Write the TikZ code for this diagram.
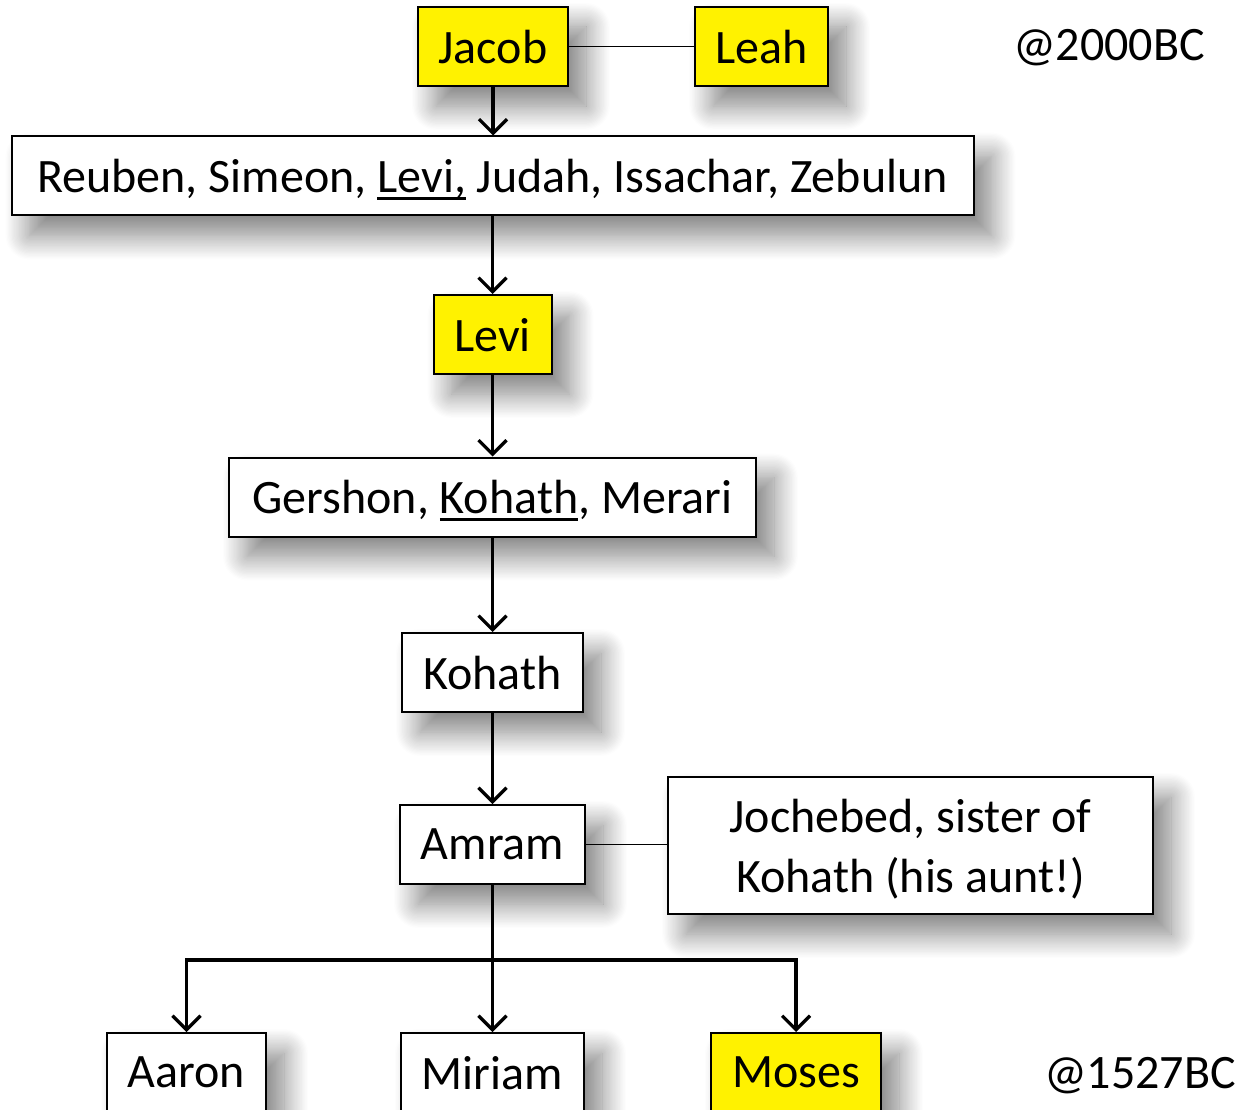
\documentclass[tikz,border=0pt]{standalone}
\usepackage{fontspec}
\setmainfont{Carlito}
\usetikzlibrary{arrows.meta,shadows.blur}
\newcommand\uln[1]{\setbox0\hbox{#1}\rlap{\rule[-7pt]{\wd0}{3pt}}\box0\relax}
\begin{document}
\begin{tikzpicture}[x=1pt,y=-1pt,
  box/.style={draw=black,line width=2pt,fill=white,minimum height=79pt,inner sep=0pt,
    font=\fontsize{48}{60}\selectfont,text depth=0pt,
    blur shadow={shadow xshift=18pt,shadow yshift=-20pt,shadow blur radius=24pt,shadow blur steps=20,shadow opacity=50}},
  ybox/.style={box,fill=yellow},
  plain/.style={font=\fontsize{48}{60}\selectfont,inner sep=0pt},
  arr/.style={line width=3.2pt,-{Straight Barb[length=14pt,width=28pt,line width=3.2pt]}},
  thin/.style={line width=1.5pt},
  thick/.style={line width=3.2pt}]
\useasboundingbox (0,0) rectangle (1243,1110);
\clip (0,0) rectangle (1243,1110);
\node[ybox,minimum width=150pt] (jacob) at (493,46.5) {Jacob};
\node[ybox,minimum width=133pt] (leah) at (761.5,46.5) {Leah};
\node[plain] (d2000) at (1109,48) {@2000BC};
\node[box,minimum width=962pt] (sons) at (492.5,176) {Reuben, Simeon, \uln{Levi,} Judah, Issachar, Zebulun};
\node[ybox,minimum width=118pt] (levi) at (492.5,334.5) {Levi};
\node[box,minimum width=527pt] (gersh) at (492.5,497) {Gershon, \uln{Kohath}, Merari};
\node[box,minimum width=181pt] (kohath) at (492.5,672.5) {Kohath};
\node[box,minimum width=185pt] (amram) at (492.5,844.5) {Amram};
\node[box,minimum width=485pt,minimum height=137pt,align=center] (joch) at (910.5,845.5) {Jochebed, sister of\\Kohath (his aunt!)};
\node[box,minimum width=159pt] (aaron) at (186.5,1072.5) {Aaron};
\node[box,minimum width=183pt] (miriam) at (492.5,1072.5) {Miriam};
\node[ybox,minimum width=170pt] (moses) at (796,1072.5) {Moses};
\node[plain] (d1527) at (1140,1076) {@1527BC};
\coordinate (bar) at (492.5,960);
\draw[thin] (jacob.east) -- (leah.west);
\draw[thin] (amram.east) -- (joch.west |- amram.east);
\draw[arr] (jacob.south) -- (jacob.south |- sons.north);
\draw[arr] (levi.north |- sons.south) -- (levi.north);
\draw[arr] (levi.south) -- (gersh.north);
\draw[arr] (gersh.south) -- (kohath.north);
\draw[arr] (kohath.south) -- (amram.north);
\draw[thick] (amram.south) -- (bar);
\draw[thick,line cap=rect] (aaron.north |- bar) -- (moses.north |- bar);
\draw[arr] (aaron.north |- bar) -- (aaron.north);
\draw[arr] (bar) -- (miriam.north);
\draw[arr] (moses.north |- bar) -- (moses.north);
\end{tikzpicture}
\end{document}
